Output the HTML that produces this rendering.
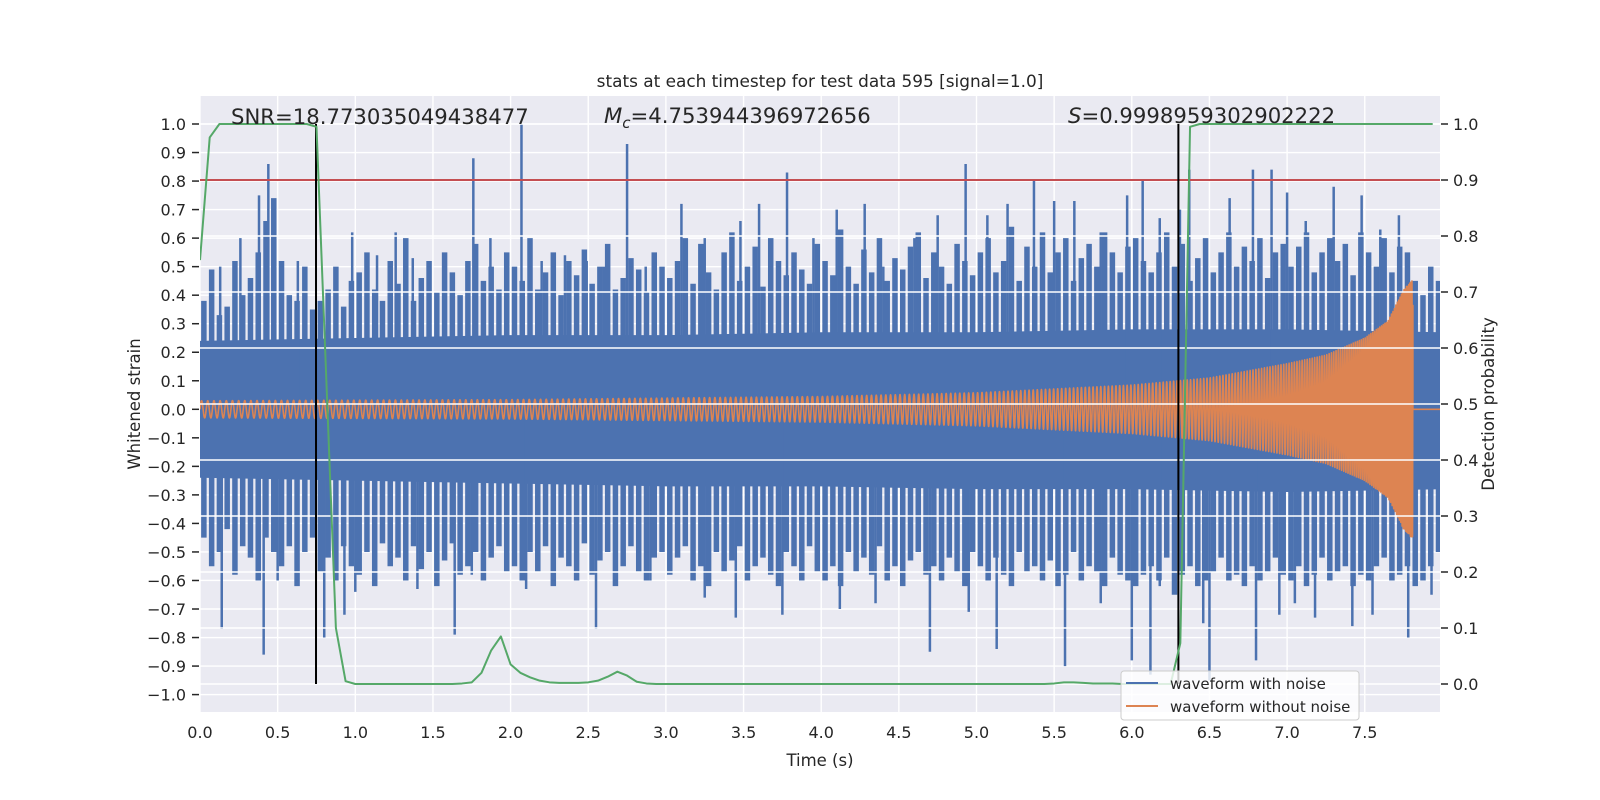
<!DOCTYPE html>
<html><head><meta charset="utf-8">
<style>
html,body{margin:0;padding:0;background:#fff;}
svg{display:block;font-family:"DejaVu Sans","Liberation Sans",sans-serif;}
</style></head>
<body>
<svg id="chart" width="1600" height="800" viewBox="0 0 1600 800" xmlns="http://www.w3.org/2000/svg">
<defs><clipPath id="clip"><rect x="200" y="96" width="1240" height="616"/></clipPath></defs>
<rect x="200" y="96" width="1240" height="616" fill="#EAEAF2"/>
<g id="gridL"></g>
<g id="blue" clip-path="url(#clip)"></g>
<g id="orange" clip-path="url(#clip)"></g>
<g id="gridR"></g>
<g id="ax2" clip-path="url(#clip)"></g>
<g id="ticks"></g>
<text x="820" y="87" font-size="16.9" text-anchor="middle" fill="#262626">stats at each timestep for test data 595 [signal=1.0]</text>
<text x="231" y="124" font-size="21.2" fill="#262626">SNR=18.773035049438477</text>
<text x="604" y="123" font-size="21.2" fill="#262626"><tspan font-style="italic">M</tspan><tspan font-style="italic" font-size="15" dy="5">c</tspan><tspan dy="-5">=4.753944396972656</tspan></text>
<text x="1068" y="123" font-size="21.2" fill="#262626"><tspan font-style="italic">S</tspan>=0.9998959302902222</text>
<text x="820" y="766" font-size="16.5" text-anchor="middle" fill="#262626">Time (s)</text>
<text transform="translate(140,404) rotate(-90)" font-size="16.5" text-anchor="middle" fill="#262626">Whitened strain</text>
<text transform="translate(1494,404) rotate(-90)" font-size="16.5" text-anchor="middle" fill="#262626">Detection probability</text>
<g>
<rect x="1121" y="671" width="238" height="49" rx="3" fill="#fff" fill-opacity="0.8" stroke="#ccc"/>
<line x1="1126" y1="683" x2="1158" y2="683" stroke="#4C72B0" stroke-width="2"/>
<text x="1170" y="689" font-size="15" fill="#262626">waveform with noise</text>
<line x1="1126" y1="706" x2="1158" y2="706" stroke="#DD8452" stroke-width="2"/>
<text x="1170" y="712" font-size="15" fill="#262626">waveform without noise</text>
</g>
</svg>
<script>
// ---- data ----
const xTicks = [0,0.5,1,1.5,2,2.5,3,3.5,4,4.5,5,5.5,6,6.5,7,7.5];
const leftTicks = [-1.0,-0.9,-0.8,-0.7,-0.6,-0.5,-0.4,-0.3,-0.2,-0.1,0,0.1,0.2,0.3,0.4,0.5,0.6,0.7,0.8,0.9,1.0];
const rightTicks = [0,0.1,0.2,0.3,0.4,0.5,0.6,0.7,0.8,0.9,1.0];
const probStep = 0.0625;
const probValues = [0.757,0.976,1,1,1,1,1,1,1,1,1,1,0.995,0.55,0.1,0.005,
 0,0,0,0,0,0,0,0,0,0,0,0.001,0.003,0.02,0.06,0.085,0.035,0.02,0.012,0.006,0.003,0.002,0.002,0.002,
 0.003,0.006,0.013,0.022,0.015,0.004,0.001,
 0,0,0,0,0,0,0,0,0,0,0,0,0,0,0,0,0,0,0,0,0,0,0,0,0,0,0,0,0,0,0,0,0,0,0,0,0,0,0,0,0,
 0.001,0.003,0.003,0.002,0.001,0.001,0.001,0,0,0,0,0,0,0.073,0.995,
 1,1,1,1,1,1,1,1,1,1,1,1,1,1,1,1,1,1,1,1,1,1,1,1,1];
const thresholdProb = 0.9;
const markerTimes = [0.747,6.30];
const coreTimes = [0,1,2,3,4,5,6,7,8];
const coreTop = [0.24,0.25,0.26,0.26,0.27,0.27,0.28,0.28,0.27];
const coreBot = [-0.24,-0.25,-0.26,-0.27,-0.27,-0.28,-0.28,-0.29,-0.28];
const midStep = 0.05;
const midTop = [.38,.49,.33,.36,.52,.40,.46,.55,.66,.74,.52,.40,.38,.50,.35,.38,.42,.50,.36,.45,
 .48,.55,.42,.38,.52,.44,.60,.38,.46,.52,.41,.55,.48,.40,.52,.58,.45,.50,.42,.55,
 .50,.45,.60,.42,.48,.55,.40,.52,.47,.56,.44,.50,.58,.42,.46,.53,.49,.41,.55,.50,
 .46,.52,.60,.44,.58,.48,.42,.55,.62,.45,.50,.57,.43,.60,.52,.47,.55,.49,.44,.58,
 .52,.47,.63,.50,.44,.56,.48,.60,.45,.53,.49,.57,.62,.46,.55,.50,.44,.58,.52,.47,
 .55,.60,.48,.52,.64,.45,.57,.50,.62,.48,.55,.60,.45,.53,.58,.50,.62,.55,.48,.57,
 .60,.52,.48,.55,.62,.50,.58,.45,.53,.60,.48,.55,.62,.50,.57,.52,.60,.46,.55,.58,
 .50,.57,.62,.48,.55,.60,.52,.58,.47,.62,.55,.50,.60,.48,.57,.55,.45,.40,.50,.45];
const midBot = [-.45,-.55,-.50,-.42,-.58,-.48,-.52,-.60,-.45,-.50,-.55,-.48,-.62,-.50,-.45,-.57,-.52,-.60,-.48,-.55,
 -.58,-.50,-.62,-.47,-.55,-.52,-.60,-.48,-.56,-.50,-.62,-.53,-.47,-.58,-.55,-.50,-.60,-.52,-.48,-.57,
 -.55,-.60,-.50,-.57,-.48,-.62,-.52,-.55,-.60,-.47,-.58,-.53,-.50,-.62,-.55,-.48,-.57,-.60,-.52,-.50,
 -.58,-.52,-.48,-.60,-.55,-.62,-.50,-.57,-.53,-.48,-.60,-.55,-.52,-.58,-.62,-.50,-.55,-.60,-.48,-.57,
 -.60,-.55,-.62,-.50,-.57,-.52,-.58,-.48,-.60,-.55,-.62,-.53,-.50,-.58,-.55,-.60,-.52,-.57,-.62,-.50,
 -.55,-.60,-.52,-.58,-.62,-.50,-.57,-.55,-.60,-.53,-.62,-.58,-.50,-.60,-.55,-.57,-.62,-.52,-.58,-.60,
 -.62,-.58,-.55,-.60,-.52,-.65,-.58,-.55,-.62,-.60,-.57,-.52,-.60,-.58,-.62,-.55,-.60,-.57,-.52,-.58,
 -.60,-.55,-.62,-.58,-.52,-.60,-.57,-.55,-.62,-.58,-.60,-.55,-.52,-.60,-.58,-.55,-.62,-.60,-.55,-.50];
const spikeUpT = [0.13,0.26,0.38,0.44,0.63,0.98,1.14,1.26,1.37,1.58,1.76,1.87,2.07,2.2,2.35,2.49,2.6,2.75,2.87,3.1,3.25,3.48,3.6,3.78,3.95,4.1,4.28,4.4,4.6,4.75,4.93,5.07,5.2,5.37,5.5,5.63,5.8,5.97,6.07,6.18,6.31,6.37,6.63,6.78,6.9,7.0,7.12,7.3,7.48,7.6,7.72];
const spikeUpV = [0.5,0.6,0.75,0.86,0.52,0.62,0.54,0.62,0.53,0.52,0.88,0.6,1.0,0.52,0.54,0.52,0.5,0.93,0.5,0.72,0.6,0.66,0.72,0.83,0.6,0.7,0.72,0.5,0.6,0.68,0.86,0.68,0.72,0.8,0.73,0.73,0.62,0.75,0.8,0.67,0.7,0.84,0.74,0.84,0.84,0.76,0.66,0.78,0.75,0.63,0.68];
const spikeDnT = [0.14,0.41,0.5,0.8,0.93,1.0,1.4,1.64,1.75,2.1,2.55,2.9,3.25,3.45,3.75,4.12,4.35,4.7,4.95,5.13,5.57,5.8,6.0,6.12,6.18,6.46,6.5,6.8,6.95,7.05,7.18,7.42,7.55,7.78,7.93];
const spikeDnV = [-0.77,-0.86,-0.6,-0.8,-0.72,-0.64,-0.63,-0.79,-0.58,-0.63,-0.77,-0.6,-0.66,-0.73,-0.72,-0.7,-0.68,-0.85,-0.71,-0.84,-0.9,-0.68,-0.88,-0.93,-0.62,-0.75,-0.95,-0.88,-0.72,-0.68,-0.73,-0.76,-0.72,-0.8,-0.65];
const chirpT = [0,2,4,5,6,6.5,7,7.25,7.5,7.65,7.75,7.8];
const chirpAmp = [0.03,0.034,0.045,0.058,0.085,0.11,0.16,0.19,0.25,0.31,0.42,0.45];
const chirpFreq = [25,27,31,35,42,48,58,65,80,95,120,150];
const chirpEnd = 7.81;

// ---- scales ----
const X = t => 200 + t*155.3;
const YL = v => 409.3 - v*285.3;
const YR = p => 684 - p*560;
const NS = 'http://www.w3.org/2000/svg';
function mk(tag, attrs, parent){ const e=document.createElementNS(NS,tag); for(const k in attrs) e.setAttribute(k,attrs[k]); parent.appendChild(e); return e; }
function interp(xs, ys, x){ if(x<=xs[0]) return ys[0]; for(let i=1;i<xs.length;i++){ if(x<=xs[i]){const f=(x-xs[i-1])/(xs[i]-xs[i-1]); return ys[i-1]+f*(ys[i]-ys[i-1]);} } return ys[ys.length-1]; }

const gridL=document.getElementById('gridL'), gridR=document.getElementById('gridR');
const ticks=document.getElementById('ticks'), blue=document.getElementById('blue');
const orange=document.getElementById('orange'), ax2=document.getElementById('ax2');
const fmt = v => (v<0?'\u2212':'') + Math.abs(v).toFixed(1);

xTicks.forEach(t=>{
  const l=mk('line',{x1:X(t),x2:X(t),y1:96,y2:712,stroke:'#fff','stroke-width':1.4},gridL);
  
  
  const tx=mk('text',{x:X(t),y:738,'font-size':16,'text-anchor':'middle',fill:'#262626'},ticks);
  tx.textContent=t.toFixed(1);
  
  
});
leftTicks.forEach(v=>{
  const l=mk('line',{x1:200,x2:1440,y1:YL(v),y2:YL(v),stroke:'#fff','stroke-width':1.4},gridL);
  
  
  const m=mk('line',{x1:192,x2:199,y1:YL(v),y2:YL(v),stroke:'#262626','stroke-width':1.5},ticks);
  
  
  const tx=mk('text',{x:186,y:YL(v)+6,'font-size':16,'text-anchor':'end',fill:'#262626'},ticks);
  tx.textContent=fmt(v);
  
  
});
rightTicks.forEach(p=>{
  const l=mk('line',{x1:200,x2:1440,y1:YR(p),y2:YR(p),stroke:'#fff','stroke-width':1.4},gridR);
  
  
  const m=mk('line',{x1:1441,x2:1448,y1:YR(p),y2:YR(p),stroke:'#262626','stroke-width':1.5},ticks);
  
  
  const tx=mk('text',{x:1453,y:YR(p)+6,'font-size':16,fill:'#262626'},ticks);
  tx.textContent=p.toFixed(1);
  
  
});

// blue noise
const BC='#4C72B0';
let pts=[];
coreTimes.forEach((t,i)=>pts.push(X(t)+','+YL(coreTop[i])));
for(let i=coreTimes.length-1;i>=0;i--) pts.push(X(coreTimes[i])+','+YL(coreBot[i]));
const core=mk('polygon',{points:pts.join(' '),fill:BC},blue);


midTop.forEach((v,i)=>{
  const t=i*midStep+midStep/2;
  const r=mk('line',{x1:X(t),x2:X(t),y1:YL(v),y2:YL(0),stroke:BC,'stroke-width':5.5},blue);
  
  
});
midBot.forEach((v,i)=>{
  const t=i*midStep+midStep/2;
  const r=mk('line',{x1:X(t),x2:X(t),y1:YL(v),y2:YL(0),stroke:BC,'stroke-width':5.5},blue);
  
  
});
spikeUpT.forEach((t,i)=>{
  const r=mk('line',{x1:X(t),x2:X(t),y1:YL(spikeUpV[i]),y2:YL(0),stroke:BC,'stroke-width':2.5},blue);
  
  
});
spikeDnT.forEach((t,i)=>{
  const r=mk('line',{x1:X(t),x2:X(t),y1:YL(spikeDnV[i]),y2:YL(0),stroke:BC,'stroke-width':2.5},blue);
  
  
});

// orange chirp
let ph=0, d='M'+X(0)+','+YL(0);
const dt=0.0004;
for(let t=dt;t<=chirpEnd;t+=dt){
  ph+=2*Math.PI*interp(chirpT,chirpFreq,t)*dt;
  d+=' L'+X(t).toFixed(2)+','+YL(interp(chirpT,chirpAmp,t)*Math.sin(ph)).toFixed(2);
}
d+=' L'+X(chirpEnd)+','+YL(0)+' L'+X(8)+','+YL(0);
const ch=mk('path',{d:d,fill:'none',stroke:'#DD8452','stroke-width':1.6,'stroke-linejoin':'round'},orange);



// axis 2 marks
const th=mk('line',{x1:200,x2:1440,y1:YR(thresholdProb),y2:YR(thresholdProb),stroke:'#C44E52','stroke-width':2},ax2);


markerTimes.forEach(t=>{
  const l=mk('line',{x1:X(t),x2:X(t),y1:YR(1),y2:YR(0),stroke:'#000','stroke-width':2},ax2);
  
  
});
const gp=probValues.map((p,i)=>X(i*probStep).toFixed(2)+','+YR(p).toFixed(2)).join(' ');
const gl=mk('polyline',{points:gp,fill:'none',stroke:'#55A868','stroke-width':2,'stroke-linejoin':'round'},ax2);


</script>
</body></html>
